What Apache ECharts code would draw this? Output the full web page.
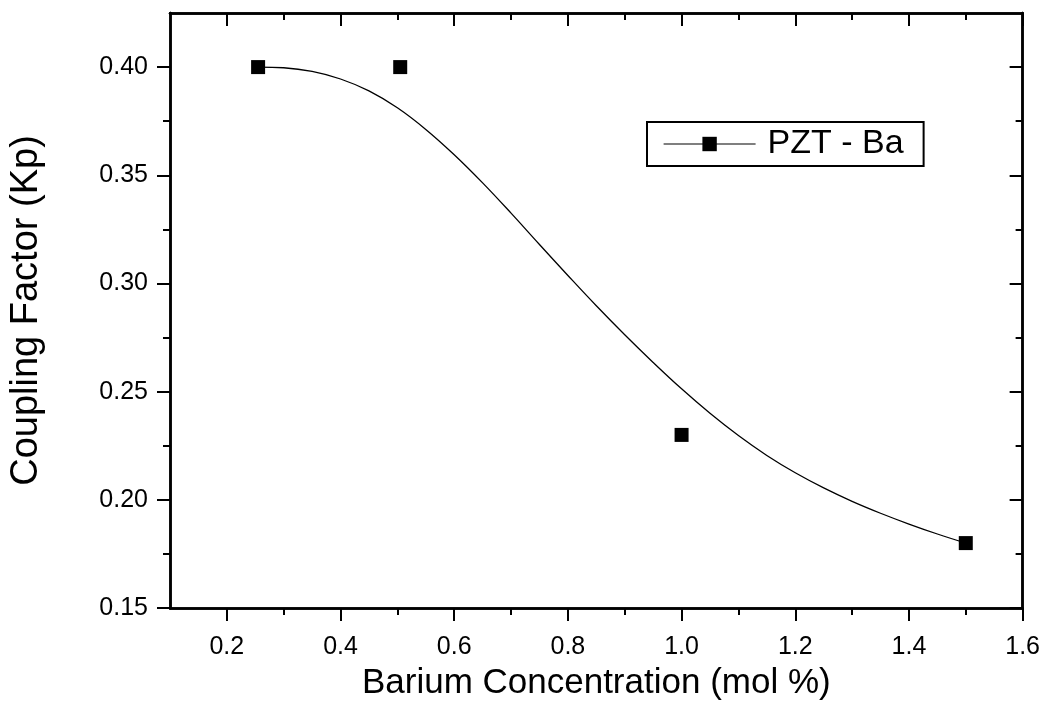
<!DOCTYPE html>
<html>
<head>
<meta charset="utf-8">
<script src="https://cdn.jsdelivr.net/npm/echarts@6/dist/echarts.min.js"></script>
<style>html,body{margin:0;padding:0;background:#fff}#c{width:1043px;height:706px}</style>
</head>
<body>
<div id="c"></div>
<script>
// measured points
const concentration = [0.255, 0.505, 1.0, 1.5];
const couplingFactor = [0.40, 0.40, 0.23, 0.18];
// smooth fitted curve
const curveX = [0.255,0.30,0.35,0.40,0.45,0.50,0.55,0.60,0.65,0.70,0.75,0.80,0.85,0.90,0.95,1.00,1.05,1.10,1.15,1.20,1.25,1.30,1.35,1.40,1.45,1.50];
const curveY = [0.4000,0.3997,0.3980,0.3945,0.3890,0.3812,0.3712,0.3595,0.3465,0.3325,0.3180,0.3037,0.2897,0.2763,0.2635,0.2513,0.2400,0.2297,0.2205,0.2125,0.2055,0.1993,0.1938,0.1888,0.1842,0.1800];
// ticks
const xMajor = [0.2,0.4,0.6,0.8,1.0,1.2,1.4,1.6];
const xMinor = [0.3,0.5,0.7,0.9,1.1,1.3,1.5];
const yMajor = [0.15,0.20,0.25,0.30,0.35,0.40];
const yMinor = [0.175,0.225,0.275,0.325,0.375];
const seriesName = 'PZT - Ba';
const xTitle = 'Barium Concentration (mol %)';
const yTitle = 'Coupling Factor (Kp)';

const FONT = 'Liberation Sans, Arial, sans-serif';
const X_MIN = 0.1, X_MAX = 1.6, Y_MIN = 0.15, Y_MAX = 0.425;
const lineW = 2.5;

function xAx(pos, ticks, len, inside, labels, extra) {
  return Object.assign({
    type: 'value', position: pos, min: X_MIN, max: X_MAX,
    axisLine: {show: true, onZero: false, lineStyle: {color: '#000', width: lineW}},
    axisTick: {show: true, inside: inside, length: len, customValues: ticks, lineStyle: {color: '#000', width: 2}},
    axisLabel: labels ? {show: true, customValues: ticks, fontFamily: FONT, fontSize: 25, color: '#000', margin: 27,
      formatter: v => v.toFixed(1)} : {show: false},
    splitLine: {show: false}
  }, extra || {});
}
function yAx(pos, ticks, len, inside, labels, extra) {
  return Object.assign({
    type: 'value', position: pos, min: Y_MIN, max: Y_MAX,
    axisLine: {show: true, onZero: false, lineStyle: {color: '#000', width: lineW}},
    axisTick: {show: true, inside: inside, length: len, customValues: ticks, lineStyle: {color: '#000', width: 2}},
    axisLabel: labels ? {show: true, customValues: ticks, fontFamily: FONT, fontSize: 25, color: '#000', margin: 22,
      formatter: v => v.toFixed(2)} : {show: false},
    splitLine: {show: false}
  }, extra || {});
}

const chart = echarts.init(document.getElementById('c'), null, {renderer: 'canvas'});
chart.setOption({
  animation: false,
  backgroundColor: '#fff',
  grid: {left: 165, right: 20, top: 13, bottom: 97, containLabel: false},
  legend: {
    data: [{name: seriesName, lineStyle: {width: 1.2, color: '#000', opacity: 1, type: 'solid'}, itemStyle: {color: '#000'}}],
    left: 647, top: 122,
    orient: 'horizontal',
    padding: [5, 20, 5, 16],
    borderColor: '#000', borderWidth: 2,
    itemWidth: 92, itemHeight: 18,
    textStyle: {fontFamily: FONT, fontSize: 34, color: '#000', padding: [0, 0, 0, 7]}
  },
  xAxis: [
    xAx('bottom', xMajor, 13, false, true, {
      name: xTitle, nameLocation: 'middle', nameGap: 58,
      nameTextStyle: {fontFamily: FONT, fontSize: 35, color: '#000'}
    }),
    xAx('bottom', xMinor, 7, false, false),
    xAx('top', xMajor, 13, true, false),
    xAx('top', xMinor, 7, true, false)
  ],
  yAxis: [
    yAx('left', yMajor, 13, false, true, {
      name: yTitle, nameLocation: 'middle', nameGap: 124, nameRotate: 90,
      nameTextStyle: {fontFamily: FONT, fontSize: 38, color: '#000'}
    }),
    yAx('left', yMinor, 7, false, false),
    yAx('right', yMajor, 13, true, false),
    yAx('right', yMinor, 7, true, false)
  ],
  series: [
    {
      name: 'fit', type: 'line', xAxisIndex: 0, yAxisIndex: 0,
      data: curveX.map((x, i) => [x, curveY[i]]),
      smooth: 0.4, showSymbol: false, symbol: 'none',
      lineStyle: {color: '#000', width: 1.3}, z: 2, silent: true
    },
    {
      name: seriesName, type: 'line', xAxisIndex: 0, yAxisIndex: 0,
      data: concentration.map((x, i) => [x, couplingFactor[i]]),
      symbol: 'rect', symbolSize: 14, showSymbol: true,
      itemStyle: {color: '#000'},
      lineStyle: {width: 0, opacity: 0},
      z: 3
    }
  ]
});
</script>
</body>
</html>
